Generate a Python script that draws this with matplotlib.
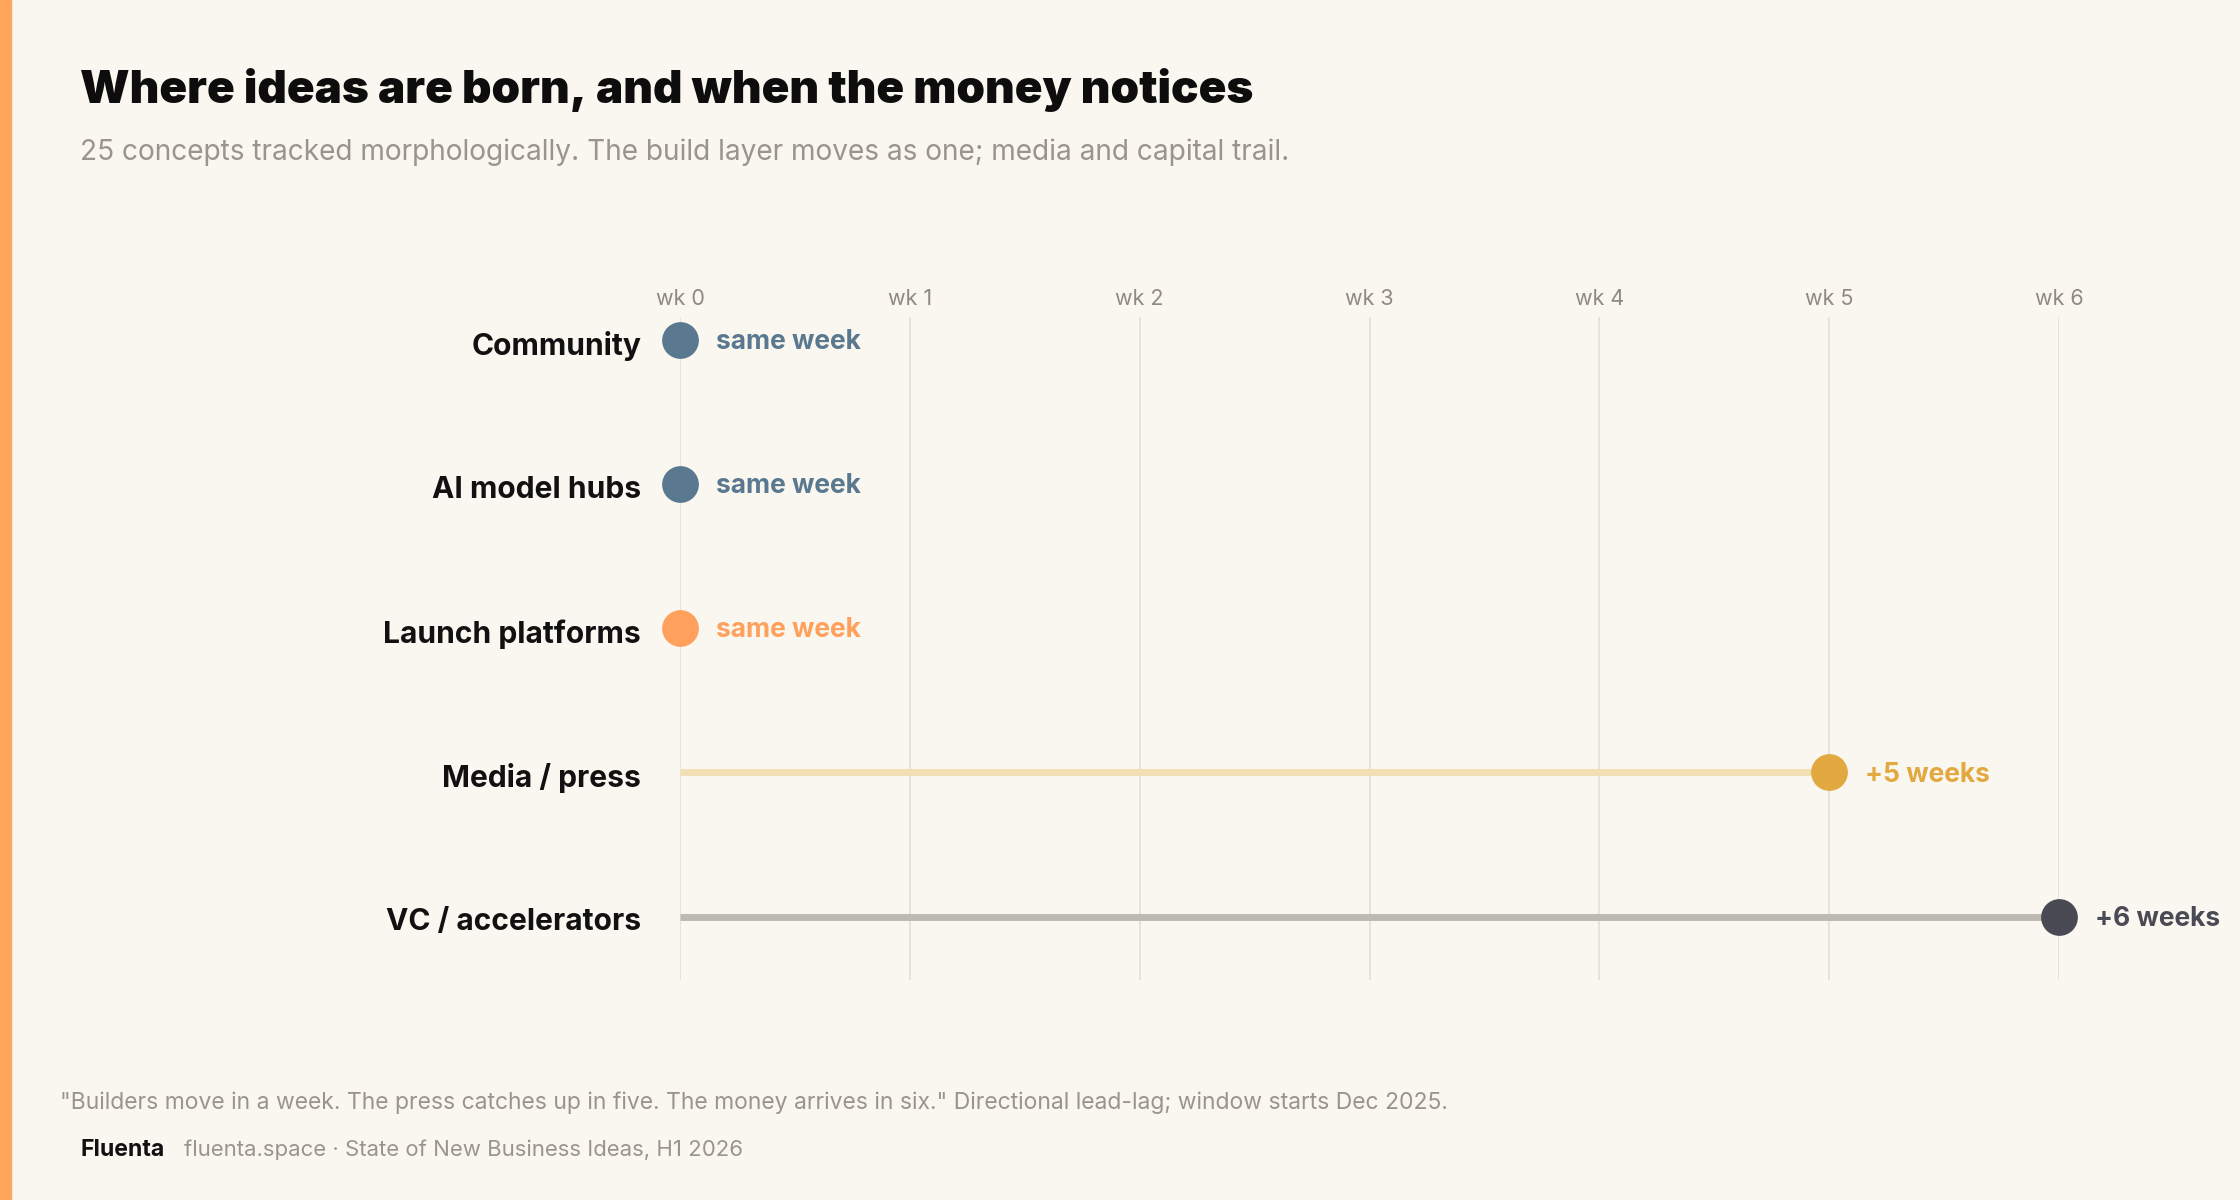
import matplotlib
matplotlib.use("Agg")
import matplotlib.pyplot as plt
import matplotlib.patches as patches

# data
channels = ["Community", "AI model hubs", "Launch platforms", "Media / press", "VC / accelerators"]
lag_weeks = [0, 0, 0, 5, 6]
week_ticks = [0, 1, 2, 3, 4, 5, 6]
tick_labels = ["wk 0", "wk 1", "wk 2", "wk 3", "wk 4", "wk 5", "wk 6"]

dot_colors = ["#5a788f", "#5a788f", "#ffa05c", "#e2a940", "#4a4a55"]
line_colors = ["#5a788f", "#5a788f", "#ffa05c", "#f3dfb4", "#bdbab3"]

BG = "#faf7f0"
GRAY = "#9a958c"
W, H = 2240, 1200

plt.rcParams["font.family"] = ["Inter", "DejaVu Sans"]

fig = plt.figure(figsize=(W / 100, H / 100), dpi=100, facecolor=BG)


def fx(x):
    return x / W


def fy(y):
    return 1 - y / H


# left accent stripe
fig.patches.append(patches.Rectangle((0, 0), fx(11), 1, transform=fig.transFigure,
                                     color="#ffa55e", zorder=0))

# axes placed so wk0 sits at x=680 px and wk6 at x=2059 px
ax_left, ax_right, ax_top, ax_bot = 680, 2059, 317, 980
ax = fig.add_axes([fx(ax_left), fy(ax_bot), fx(ax_right - ax_left), (ax_bot - ax_top) / H])
ax.set_facecolor(BG)
ax.set_xlim(0, 6)
ax.set_ylim(4.44, -0.16)

for s in ax.spines.values():
    s.set_visible(False)

ax.xaxis.tick_top()
ax.set_xticks(week_ticks)
ax.set_xticklabels(tick_labels, color="#8f8a80", fontsize=15.5)
ax.tick_params(axis="x", length=0, pad=6)
ax.set_yticks([])
for t in week_ticks:
    ax.axvline(t, color="#e5e1d6", linewidth=1.3, zorder=1)

for i, (name, lag) in enumerate(zip(channels, lag_weeks)):
    if lag > 0:
        ax.plot([0, lag], [i, i], color=line_colors[i], linewidth=5,
                solid_capstyle="butt", zorder=2)
    ax.scatter([lag], [i], s=700, color=dot_colors[i], zorder=3, linewidths=0, clip_on=False)
    label = "same week" if lag == 0 else f"+{lag} weeks"
    ax.annotate(label, (lag, i), xytext=(26, -1.5), textcoords="offset points",
                va="center", ha="left", fontsize=19, fontweight="bold",
                color=dot_colors[i], annotation_clip=False)
    ax.annotate(name, (0, i), xytext=(-28, -4), textcoords="offset points",
                va="center", ha="right", fontsize=21.6, fontweight="bold",
                color="#111111", annotation_clip=False)

# title block
fig.text(fx(80), fy(90), "Where ideas are born, and when the money notices",
         fontsize=33, fontweight="black", color="#0d0d0d", va="center", ha="left")
fig.text(fx(80), fy(152), "25 concepts tracked morphologically. The build layer moves as one; media and capital trail.",
         fontsize=20.2, color=GRAY, va="center", ha="left")

# footer
fig.text(fx(60), fy(1103),
         "\"Builders move in a week. The press catches up in five. The money arrives in six.\" Directional lead-lag; window starts Dec 2025.",
         fontsize=16.5, color=GRAY, va="center", ha="left")
fig.text(fx(80), fy(1150), "Fluenta", fontsize=16.6, fontweight="bold", color="#111111",
         va="center", ha="left")
fig.text(fx(184), fy(1150), "fluenta.space \u00b7 State of New Business Ideas, H1 2026",
         fontsize=15.95, color=GRAY, va="center", ha="left")

fig.savefig("out.png", dpi=100, facecolor=BG)
